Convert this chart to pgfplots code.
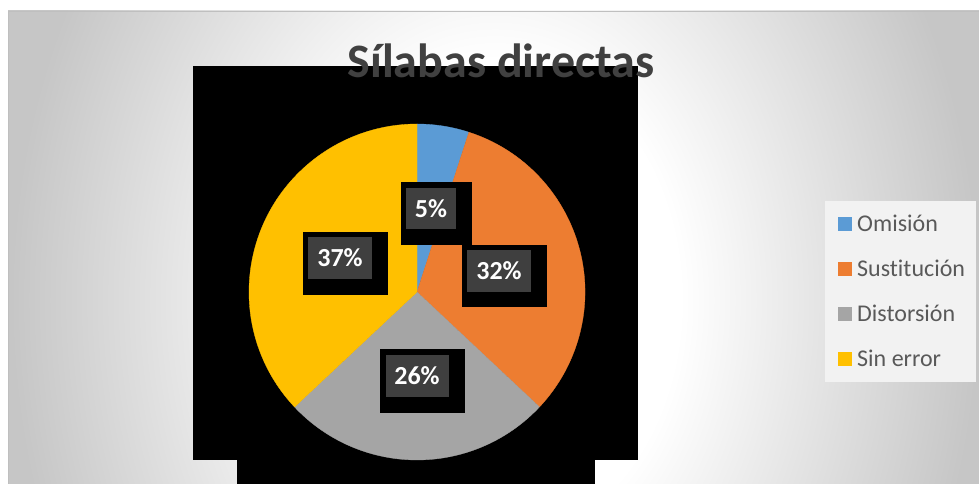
\documentclass[border=0pt]{standalone}
\usepackage{pgfplots}
\pgfplotsset{compat=1.18}
\usepackage{pgfplotstable}
\usepackage{fontspec}
\setmainfont{Carlito}[Ligatures={NoCommon}]
\definecolor{slice0}{HTML}{5B9BD5}
\definecolor{slice1}{HTML}{ED7D31}
\definecolor{slice2}{HTML}{A5A5A5}
\definecolor{slice3}{HTML}{FFC000}
\definecolor{titlegray}{HTML}{404040}
\definecolor{leggray}{HTML}{595959}
\definecolor{legbg}{HTML}{F2F2F2}
\definecolor{lblbg}{HTML}{3F3F3F}
\definecolor{bgout}{HTML}{C6C6C6}
\pgfdeclareradialshading{bgshade}{\pgfpoint{0bp}{0bp}}{color(0bp)=(white); color(6.6bp)=(white); color(17.3bp)=(bgout); color(50bp)=(bgout)}

\pgfplotstableread[col sep=comma]{
name,value
Omisión,5
Sustitución,32
Distorsión,26
Sin error,37
}\datatable

\def\acc{90}
\pgfplotsforeachungrouped \i in {0,1,2,3}{%
  \pgfplotstablegetelem{\i}{value}\of\datatable
  \let\myval\pgfplotsretval
  \expandafter\xdef\csname val\i\endcsname{\myval}%
  \pgfplotstablegetelem{\i}{name}\of\datatable
  \expandafter\xdef\csname nm\i\endcsname{\pgfplotsretval}%
  \expandafter\xdef\csname sa\i\endcsname{\acc}%
  \pgfmathsetmacro\acc{\acc-3.6*\myval}%
  \expandafter\xdef\csname ea\i\endcsname{\acc}%
}

\begin{document}
\begin{tikzpicture}
\useasboundingbox (0pt,0pt) rectangle (979pt,484pt);
\fill[white] (0pt,0pt) rectangle (979pt,484pt);
\begin{scope}
\clip (8pt,0pt) rectangle (979pt,473pt);
\shade[shading=bgshade] (495pt,184pt) ellipse [x radius=700pt, y radius=910pt];
\end{scope}
\draw[color=black!25, line width=0.8pt] (8pt,0pt) -- (8pt,473pt) -- (979pt,473pt);
\begin{axis}[
  x=1pt, y=1pt, xmin=0, xmax=979, ymin=0, ymax=484,
  hide axis, clip=false,
  at={(0pt,0pt)}, anchor=south west,
]
% black artefact rectangles
\fill[black] (axis cs:193,24) rectangle (axis cs:638,418);
\fill[black] (axis cs:237,0) rectangle (axis cs:595,24);
% title
\node[anchor=base, text=titlegray, font=\fontsize{48}{52}\selectfont\bfseries] at (axis cs:501,406) {Sílabas directas};
% pie slices
\pgfplotsinvokeforeach{0,...,3}{
  \filldraw[fill=slice#1, draw=slice#1, line width=0.3pt, line join=round]
    (axis cs:417,192) -- ++(\csname sa#1\endcsname:168pt)
    arc[start angle=\csname sa#1\endcsname, end angle=\csname ea#1\endcsname, radius=168pt] -- cycle;
}
% legend box
\fill[legbg] (axis cs:825,102) rectangle (axis cs:976,283);
\pgfplotsinvokeforeach{0,...,3}{
  \fill[slice#1] (axis cs:838,{253-45*#1}) rectangle (axis cs:852,{267-45*#1});
  \node[anchor=base west, inner sep=0pt, text=leggray, font=\fontsize{24}{28}\selectfont] at (axis cs:857,{252.3-45*#1}) {\csname nm#1\endcsname};
}
% data labels
\fill[black] (axis cs:401,239) rectangle (axis cs:472,302);
\fill[lblbg] (axis cs:406,255) rectangle (axis cs:456,296);
\node[anchor=base, inner sep=0pt, text=white, font=\fontsize{26}{30}\selectfont\bfseries] at (axis cs:431,266.6) {\csname val0\endcsname\%};
\fill[black] (axis cs:462,177) rectangle (axis cs:547,239);
\fill[lblbg] (axis cs:467,192) rectangle (axis cs:531,234);
\node[anchor=base, inner sep=0pt, text=white, font=\fontsize{26}{30}\selectfont\bfseries] at (axis cs:499,204.6) {\csname val1\endcsname\%};
\fill[black] (axis cs:380,71) rectangle (axis cs:465,135);
\fill[lblbg] (axis cs:386,87) rectangle (axis cs:449,129);
\node[anchor=base, inner sep=0pt, text=white, font=\fontsize{26}{30}\selectfont\bfseries] at (axis cs:417,99.6) {\csname val2\endcsname\%};
\fill[black] (axis cs:303,189) rectangle (axis cs:388,252);
\fill[lblbg] (axis cs:308,205) rectangle (axis cs:372,247);
\node[anchor=base, inner sep=0pt, text=white, font=\fontsize{26}{30}\selectfont\bfseries] at (axis cs:340,217.6) {\csname val3\endcsname\%};
\end{axis}
\end{tikzpicture}
\end{document}
